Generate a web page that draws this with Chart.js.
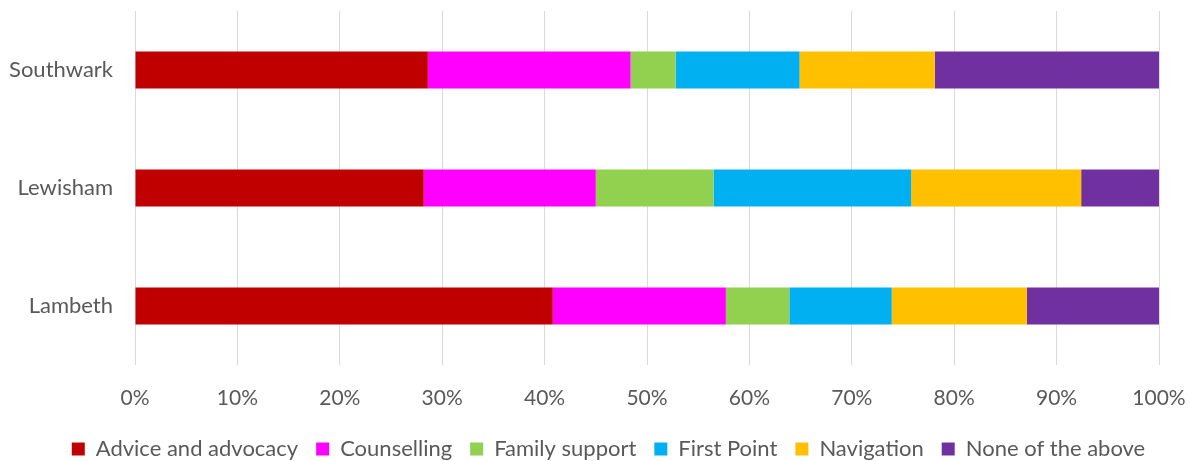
<!DOCTYPE html>
<html>
<head>
<meta charset="utf-8">
<script src="https://cdn.jsdelivr.net/npm/chart.js@4"></script>
<style>
  html, body { margin: 0; padding: 0; background: #fff; }
  #wrap { width: 1190px; height: 461px; }
</style>
</head>
<body>
<div id="wrap"><canvas id="chart"></canvas></div>
<script>
// Data (percent of each borough's total)
const boroughs = ['Southwark', 'Lewisham', 'Lambeth'];
const advice = [28.6, 28.2, 40.8];
const counselling = [19.8, 16.8, 16.9];
const familySupport = [4.4, 11.5, 6.2];
const firstPoint = [12.1, 19.3, 10.0];
const navigation = [13.2, 16.6, 13.2];
const noneOfAbove = [21.9, 7.6, 13.0];
const xTicks = [0, 10, 20, 30, 40, 50, 60, 70, 80, 90, 100];

const font = 'Lato, "Open Sans", sans-serif';
const grey = '#595959';

const series = [
  { label: 'Advice and advocacy', data: advice, color: '#C00000' },
  { label: 'Counselling', data: counselling, color: '#FF00FF' },
  { label: 'Family support', data: familySupport, color: '#92D050' },
  { label: 'First Point', data: firstPoint, color: '#00B0F0' },
  { label: 'Navigation', data: navigation, color: '#FFC000' },
  { label: 'None of the above', data: noneOfAbove, color: '#7030A0' }
];

// fix legend height and nudge it like the original
const legendTweak = {
  id: 'legendTweak',
  beforeInit(chart) {
    const lg = chart.legend;
    const origFit = lg.fit;
    lg.fit = function () {
      origFit.call(this);
      this.height = 46;
    };
  },
  afterLayout(chart) {
    const lg = chart.legend;
    lg.left += 29;
    lg.right += 29;
    lg.top += 5;
    lg.bottom += 5;
  }
};

new Chart(document.getElementById('chart'), {
  type: 'bar',
  data: {
    labels: boroughs,
    datasets: series.map(s => ({
      label: s.label,
      data: s.data,
      backgroundColor: s.color,
      borderWidth: 0,
      categoryPercentage: 1,
      barPercentage: 0.314
    }))
  },
  options: {
    indexAxis: 'y',
    responsive: true,
    maintainAspectRatio: false,
    animation: false,
    layout: { padding: { top: 11, right: 31, left: 0, bottom: 0 } },
    plugins: {
      tooltip: { enabled: false },
      legend: {
        position: 'bottom',
        labels: {
          color: grey,
          font: { family: font, size: 22 },
          boxWidth: 13,
          boxHeight: 13,
          padding: 18
        }
      }
    },
    scales: {
      x: {
        stacked: true,
        min: 0,
        max: 100,
        afterBuildTicks: scale => { scale.ticks = xTicks.map(v => ({ value: v })); },
        grid: { color: '#D9D9D9', lineWidth: 1, drawTicks: true, tickLength: 21, tickColor: 'rgba(0,0,0,0)' },
        border: { display: false },
        ticks: {
          color: grey,
          font: { family: font, size: 21 },
          padding: 0,
          callback: v => v + '%'
        },
        afterFit: scale => { scale.height = 50; }
      },
      y: {
        stacked: true,
        grid: { display: true, drawOnChartArea: false, drawTicks: true, tickLength: 22, tickColor: 'rgba(0,0,0,0)' },
        border: { display: false },
        ticks: {
          color: grey,
          font: { family: font, size: 22, lineHeight: 1 },
          padding: 0
        },
        afterFit: scale => { scale.width = 135; }
      }
    }
  },
  plugins: [legendTweak]
});
</script>
</body>
</html>
